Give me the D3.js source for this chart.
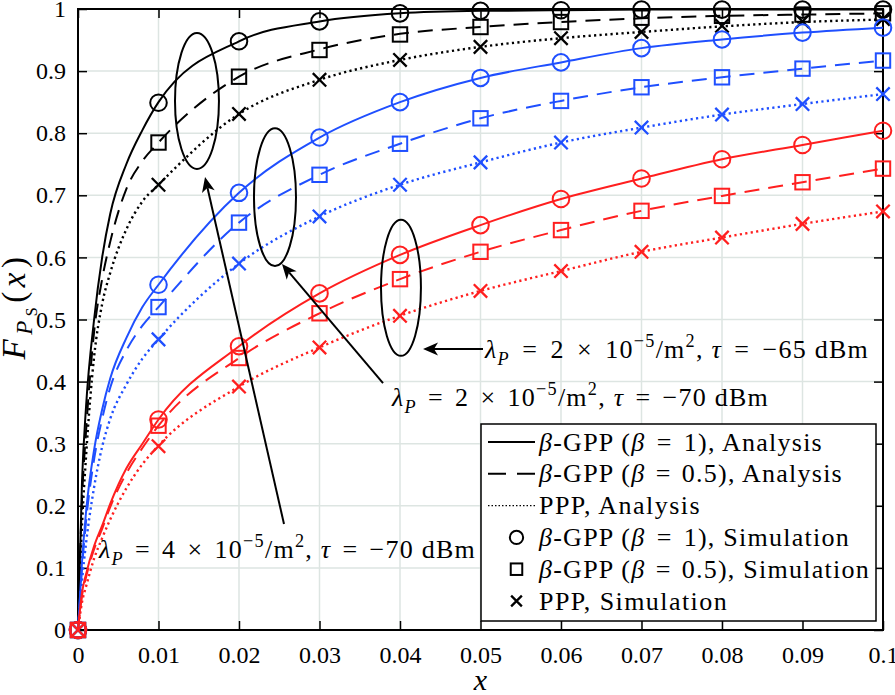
<!DOCTYPE html>
<html><head><meta charset="utf-8">
<script src="https://cdn.jsdelivr.net/npm/d3@7"></script>
<style>body{margin:0;background:#fff}svg{display:block}</style>
</head><body>
<svg id="c" width="895" height="695"></svg>
<script>
// ---------- data ----------
const xTicks = [0,0.01,0.02,0.03,0.04,0.05,0.06,0.07,0.08,0.09,0.1];
const xTickLabels = ["0","0.01","0.02","0.03","0.04","0.05","0.06","0.07","0.08","0.09","0.1"];
const yTicks = [0,0.1,0.2,0.3,0.4,0.5,0.6,0.7,0.8,0.9,1];
const yTickLabels = ["0","0.1","0.2","0.3","0.4","0.5","0.6","0.7","0.8","0.9","1"];

// analysis curves
const xAnalysis = [0,0.0005,0.001,0.002,0.003,0.004,0.006,0.008,0.01,0.02,0.03,0.04,0.05,0.06,0.07,0.08,0.09,0.1];
const anaK_b1   = [0,0.24,0.36,0.50,0.60,0.67,0.75,0.805,0.85,0.948,0.98,0.993,0.997,0.998,0.999,0.999,0.999,0.999];
const anaK_b05  = [0,0.21,0.32,0.48,0.565,0.625,0.71,0.755,0.785,0.891,0.935,0.96,0.971,0.979,0.985,0.989,0.991,0.993];
const anaK_ppp  = [0,0.17,0.28,0.44,0.525,0.575,0.645,0.69,0.717,0.831,0.886,0.918,0.939,0.953,0.963,0.972,0.979,0.983];
const anaB_b1   = [0,0.11,0.19,0.29,0.355,0.405,0.47,0.52,0.556,0.704,0.793,0.850,0.889,0.914,0.937,0.951,0.962,0.970];
const anaB_b05  = [0,0.10,0.175,0.275,0.34,0.39,0.45,0.49,0.52,0.656,0.733,0.783,0.824,0.852,0.874,0.890,0.904,0.917];
const anaB_ppp  = [0,0.08,0.14,0.23,0.295,0.34,0.395,0.437,0.468,0.590,0.666,0.717,0.753,0.785,0.809,0.830,0.847,0.863];
const anaR_b1   = [0,0.06,0.09,0.135,0.168,0.203,0.26,0.30,0.339,0.457,0.542,0.604,0.652,0.694,0.727,0.758,0.781,0.804];
const anaR_b05  = [0,0.055,0.085,0.13,0.163,0.198,0.252,0.293,0.329,0.438,0.510,0.565,0.609,0.644,0.675,0.699,0.721,0.743];
const anaR_ppp  = [0,0.045,0.07,0.115,0.148,0.178,0.228,0.267,0.297,0.392,0.455,0.506,0.546,0.578,0.609,0.632,0.654,0.674];

// simulation markers
const xSim = [0,0.01,0.02,0.03,0.04,0.05,0.06,0.07,0.08,0.09,0.1];
const simK_b1  = [0,0.849,0.948,0.980,0.993,0.997,0.998,0.999,0.999,0.999,0.999];
const simK_b05 = [0,0.785,0.891,0.934,0.959,0.971,0.979,0.986,0.989,0.991,0.993];
const simK_ppp = [0,0.717,0.831,0.886,0.918,0.939,0.953,0.963,0.973,0.980,0.984];
const simB_b1  = [0,0.556,0.704,0.793,0.850,0.889,0.914,0.937,0.951,0.962,0.970];
const simB_b05 = [0,0.520,0.656,0.733,0.783,0.824,0.852,0.874,0.890,0.904,0.917];
const simB_ppp = [0,0.468,0.590,0.666,0.717,0.753,0.785,0.809,0.830,0.847,0.863];
const simR_b1  = [0,0.339,0.457,0.542,0.604,0.652,0.694,0.727,0.758,0.781,0.804];
const simR_b05 = [0,0.329,0.438,0.510,0.565,0.609,0.644,0.675,0.699,0.721,0.743];
const simR_ppp = [0,0.296,0.392,0.455,0.506,0.546,0.578,0.609,0.632,0.654,0.674];

const groupColors = ["#000000","#1f4fff","#ff1f1f"];
const legendLabels = [
  [{t:"β",i:1},{t:"-GPP ("},{t:"β",i:1},{t:"=",op:1},{t:"1), Analysis"}],
  [{t:"β",i:1},{t:"-GPP ("},{t:"β",i:1},{t:"=",op:1},{t:"0.5), Analysis"}],
  [{t:"PPP, Analysis"}],
  [{t:"β",i:1},{t:"-GPP ("},{t:"β",i:1},{t:"=",op:1},{t:"1), Simulation"}],
  [{t:"β",i:1},{t:"-GPP ("},{t:"β",i:1},{t:"=",op:1},{t:"0.5), Simulation"}],
  [{t:"PPP, Simulation"}]
];
const legendWidths = [285,305,162,312,332,189];

// annotations in data units
const ellipses = [
  {cx:0.01478, cy:0.852, rx:0.00273, ry:0.1095},
  {cx:0.02447, cy:0.697, rx:0.00261, ry:0.111},
  {cx:0.04012, cy:0.551, rx:0.00248, ry:0.1095}
];
const arrows = [
  {x1:0.05031, y1:0.4525, x2:0.04286, y2:0.4525},
  {x1:0.03789, y1:0.3977, x2:0.02534, y2:0.5894},
  {x1:0.02559, y1:0.1707, x2:0.01578, y2:0.7295}
];
const annoTexts = [
  {x:0.05056, y:0.4385, lam:"2", tau:"−65", w:385},
  {x:0.0390,  y:0.3605, lam:"2", tau:"−70", w:378},
  {x:0.00261, y:0.1160, lam:"4", tau:"−70", w:378}
];

// ---------- drawing ----------
const L=78, R=883, T=9, B=630;
const FONT = "'Liberation Serif','Times New Roman',serif";
const FS = 24;
const svg = d3.select("#c").style("font-family",FONT);
const x = d3.scaleLinear().domain([0,0.1]).range([L,R]);
const y = d3.scaleLinear().domain([0,1]).range([B,T]);

// grid
const grid = svg.append("g").attr("stroke","#dde5e2").attr("stroke-width",1.5);
xTicks.slice(1,-1).forEach(v=>grid.append("line").attr("x1",x(v)).attr("x2",x(v)).attr("y1",T).attr("y2",B));
yTicks.slice(1,-1).forEach(v=>grid.append("line").attr("y1",y(v)).attr("y2",y(v)).attr("x1",L).attr("x2",R));

// axes
function styleAxis(g){ g.select(".domain").remove(); g.selectAll(".tick line").attr("stroke","#000").attr("stroke-width",1.5);
  g.selectAll("text").attr("font-family",FONT).attr("font-size",FS).attr("fill","#000"); }
svg.append("g").attr("transform",`translate(0,${B})`)
  .call(d3.axisBottom(x).tickValues(xTicks).tickSize(-9).tickPadding(16).tickFormat((d,i)=>xTickLabels[i])).call(styleAxis);
svg.append("g").attr("transform",`translate(0,${T})`)
  .call(d3.axisTop(x).tickValues(xTicks).tickSize(-9).tickFormat("")).call(styleAxis);
svg.append("g").attr("transform",`translate(${L},0)`)
  .call(d3.axisLeft(y).tickValues(yTicks).tickSize(-9).tickPadding(12).tickFormat((d,i)=>yTickLabels[i])).call(styleAxis);
svg.append("g").attr("transform",`translate(${R},0)`)
  .call(d3.axisRight(y).tickValues(yTicks).tickSize(-9).tickFormat("")).call(styleAxis);

svg.append("rect").attr("x",L).attr("y",T).attr("width",R-L).attr("height",B-T)
  .attr("fill","none").attr("stroke","#000").attr("stroke-width",2);

// rich text helper: returns tspans that carry operator padding
function rich(sel, segs, fs){
  let prev = 0, pads = [], padNext = false;
  segs.forEach(s=>{
    const lvl = s.sub?1:(s.sup?-1:0);
    const size = s.size || (lvl===0?fs:fs*0.7);
    const target = s.sub? fs*0.28 : (s.sup? -fs*0.42 : 0);
    const ts = sel.append("tspan").text(s.t).attr("font-size",size);
    const off = (s.off!==undefined? s.off : target);
    if (off!==prev) ts.attr("dy", off-prev);
    prev = off;
    if (s.i) ts.attr("font-style","italic");
    if (s.op || padNext) pads.push(ts);
    padNext = !!s.op;
  });
  return pads;
}
function fit(sel, pads, target, fs){
  const base = 0.22*fs;
  pads.forEach(p=>p.attr("dx",base));
  const n = sel.text().length;
  const w = sel.node().getBBox().width;
  let extra = target - w;
  let ls = Math.max(-0.5, Math.min(extra/n, 1.25));
  if(!pads.length) ls = extra/n;
  sel.attr("letter-spacing", ls.toFixed(2));
  const rem = extra - ls*n;
  if(pads.length) pads.forEach(p=>p.attr("dx",(base+rem/pads.length).toFixed(2)));
}

// curves
const ana = [[anaK_b1,anaK_b05,anaK_ppp],[anaB_b1,anaB_b05,anaB_ppp],[anaR_b1,anaR_b05,anaR_ppp]];
const sim = [[simK_b1,simK_b05,simK_ppp],[simB_b1,simB_b05,simB_ppp],[simR_b1,simR_b05,simR_ppp]];
const dashes = [null,"15,9","2.2,3.3"];
const line = d3.line().x(d=>x(d[0])).y(d=>y(d[1])).curve(d3.curveMonotoneX);

function marker(g, type, cx, cy, col, s){
  if(type===0) g.append("circle").attr("cx",cx).attr("cy",cy).attr("r",8.3*s).attr("fill","none").attr("stroke",col).attr("stroke-width",2);
  else if(type===1) g.append("rect").attr("x",cx-7.2*s).attr("y",cy-7.2*s).attr("width",14.4*s).attr("height",14.4*s).attr("fill","none").attr("stroke",col).attr("stroke-width",2);
  else { const h=6.7*s; g.append("path").attr("d",`M${cx-h},${cy-h}L${cx+h},${cy+h}M${cx-h},${cy+h}L${cx+h},${cy-h}`).attr("stroke",col).attr("stroke-width",2.3); }
}

const plot = svg.append("g");
ana.forEach((grp,gi)=>{
  const col = groupColors[gi];
  grp.forEach((vals,k)=>{
    plot.append("path").datum(xAnalysis.map((xv,i)=>[xv,vals[i]])).attr("d",line)
      .attr("fill","none").attr("stroke",col).attr("stroke-width",k===2?2.4:2)
      .attr("stroke-dasharray",dashes[k]);
  });
  sim[gi].forEach((vals,k)=>{
    xSim.forEach((xv,i)=>marker(plot,k,x(xv),y(vals[i]),col,1));
  });
});

// ellipses
ellipses.forEach(e=>{
  svg.append("ellipse").attr("cx",x(e.cx)).attr("cy",y(e.cy))
    .attr("rx",x(e.cx+e.rx)-x(e.cx)).attr("ry",y(e.cy)-y(e.cy+e.ry))
    .attr("fill","none").attr("stroke","#000").attr("stroke-width",2);
});
// arrows
arrows.forEach(a=>{
  const x1=x(a.x1),y1=y(a.y1),x2=x(a.x2),y2=y(a.y2);
  const ang=Math.atan2(y2-y1,x2-x1);
  const len=15, wid=6.5, back=11;
  const bx=x2-back*Math.cos(ang), by=y2-back*Math.sin(ang);
  svg.append("line").attr("x1",x1).attr("y1",y1).attr("x2",bx).attr("y2",by).attr("stroke","#000").attr("stroke-width",2);
  const p=(l,w)=>[x2-l*Math.cos(ang)-w*Math.sin(ang), y2-l*Math.sin(ang)+w*Math.cos(ang)];
  const a1=p(len,wid), a2=p(len,-wid);
  svg.append("path").attr("d",`M${x2},${y2}L${a1[0]},${a1[1]}L${bx},${by}L${a2[0]},${a2[1]}Z`).attr("fill","#000");
});
// annotation texts
const AFS = 26;
annoTexts.forEach(a=>{
  const t = svg.append("text").attr("x",x(a.x)).attr("y",y(a.y)).attr("font-size",AFS).attr("fill","#000");
  const pads = rich(t,[{t:"λ",i:1},{t:"P",i:1,sub:1},{t:"=",op:1,off:0},{t:a.lam},{t:"×",op:1},{t:"10"},{t:"−5",sup:1},{t:"/m"},{t:"2",sup:1},{t:", "},{t:"τ",i:1},{t:"=",op:1},{t:a.tau+" dBm"}],AFS);
  fit(t,pads,a.w,AFS);
});

// legend
const lg = svg.append("g");
const lx=481, ly=424, lw=395, lh=197, rowH=31.8, row0=442;
const LFS = 26;
lg.append("rect").attr("x",lx).attr("y",ly).attr("width",lw).attr("height",lh).attr("fill","#fff").attr("stroke","#000").attr("stroke-width",1.5);
legendLabels.forEach((segs,i)=>{
  const cy=row0+i*rowH;
  if(i<3){
    lg.append("line").attr("x1",488).attr("x2",535).attr("y1",cy).attr("y2",cy).attr("stroke","#000")
      .attr("stroke-width",i===2?1.3:2).attr("stroke-dasharray",i===1?"18,11":(i===2?"1.5,2":null));
  } else marker(lg,i-3,516.5,cy,"#000",0.8);
  const t=lg.append("text").attr("x",539).attr("y",cy+8.5).attr("font-size",LFS).attr("fill","#000");
  const pads = rich(t,segs,LFS);
  fit(t,pads,legendWidths[i],LFS);
});

// axis labels
svg.append("text").attr("x",(L+R)/2).attr("y",690).attr("text-anchor","middle").attr("font-size",30)
  .attr("font-style","italic").text("x");
const YFS = 33;
const yl = svg.append("text").attr("transform","translate(25,306) rotate(-90)").attr("text-anchor","middle").attr("font-size",YFS);
rich(yl,[{t:"F",i:1},{t:"P",i:1,size:23,off:7},{t:"S",size:16,off:12},{t:"(",off:0,size:YFS},{t:"x",i:1,size:YFS,off:0},{t:")",size:YFS,off:0}],YFS);
fit(yl,[],108,YFS);
</script>
</body></html>
